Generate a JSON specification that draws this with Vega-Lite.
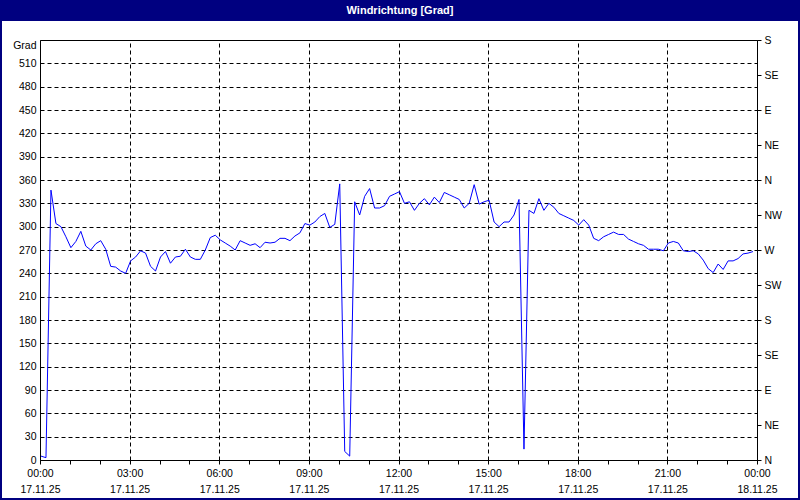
{
  "$schema": "https://vega.github.io/schema/vega-lite/v6.json",
  "width": 796,
  "height": 477,
  "autosize": {"type": "none"},
  "padding": {"top": 21, "left": 2, "right": 2, "bottom": 2},
  "background": "#000080",
  "title": {"text": "Windrichtung [Grad]", "color": "#ffffff", "font": "Liberation Sans", "fontSize": 11, "fontWeight": "bold", "anchor": "middle", "frame": "group", "baseline": "alphabetic", "offset": -4},
  "config": {
    "view": {"fill": "#ffffff", "stroke": null},
    "axis": {"labelFont": "Liberation Sans", "labelFontSize": 10.5, "labelColor": "#000000", "domainColor": "#000000", "tickColor": "#000000", "gridColor": "#000000", "gridOpacity": 1, "gridDash": [4, 3]}
  },
  "data": {"values": [
    {"t": "2025-11-17T00:02", "v": 5}, {"t": "2025-11-17T00:12", "v": 3}, {"t": "2025-11-17T00:22", "v": 347}, {"t": "2025-11-17T00:32", "v": 304}, {"t": "2025-11-17T00:42", "v": 300}, {"t": "2025-11-17T00:52", "v": 287},
    {"t": "2025-11-17T01:02", "v": 273}, {"t": "2025-11-17T01:12", "v": 281}, {"t": "2025-11-17T01:22", "v": 294}, {"t": "2025-11-17T01:32", "v": 275}, {"t": "2025-11-17T01:42", "v": 270}, {"t": "2025-11-17T01:52", "v": 278},
    {"t": "2025-11-17T02:02", "v": 282}, {"t": "2025-11-17T02:12", "v": 271}, {"t": "2025-11-17T02:22", "v": 249}, {"t": "2025-11-17T02:32", "v": 248}, {"t": "2025-11-17T02:42", "v": 243}, {"t": "2025-11-17T02:52", "v": 240},
    {"t": "2025-11-17T03:02", "v": 256}, {"t": "2025-11-17T03:12", "v": 261}, {"t": "2025-11-17T03:22", "v": 269}, {"t": "2025-11-17T03:32", "v": 266}, {"t": "2025-11-17T03:42", "v": 249}, {"t": "2025-11-17T03:52", "v": 243},
    {"t": "2025-11-17T04:02", "v": 261}, {"t": "2025-11-17T04:12", "v": 268}, {"t": "2025-11-17T04:22", "v": 253}, {"t": "2025-11-17T04:32", "v": 261}, {"t": "2025-11-17T04:42", "v": 262}, {"t": "2025-11-17T04:52", "v": 271},
    {"t": "2025-11-17T05:02", "v": 261}, {"t": "2025-11-17T05:12", "v": 258}, {"t": "2025-11-17T05:22", "v": 258}, {"t": "2025-11-17T05:32", "v": 270}, {"t": "2025-11-17T05:42", "v": 286}, {"t": "2025-11-17T05:52", "v": 289},
    {"t": "2025-11-17T06:02", "v": 283}, {"t": "2025-11-17T06:12", "v": 279}, {"t": "2025-11-17T06:22", "v": 275}, {"t": "2025-11-17T06:32", "v": 270}, {"t": "2025-11-17T06:42", "v": 282}, {"t": "2025-11-17T06:52", "v": 279},
    {"t": "2025-11-17T07:02", "v": 276}, {"t": "2025-11-17T07:12", "v": 278}, {"t": "2025-11-17T07:22", "v": 273}, {"t": "2025-11-17T07:32", "v": 280}, {"t": "2025-11-17T07:42", "v": 279}, {"t": "2025-11-17T07:52", "v": 280},
    {"t": "2025-11-17T08:02", "v": 285}, {"t": "2025-11-17T08:12", "v": 285}, {"t": "2025-11-17T08:22", "v": 282}, {"t": "2025-11-17T08:32", "v": 288}, {"t": "2025-11-17T08:42", "v": 292}, {"t": "2025-11-17T08:52", "v": 304},
    {"t": "2025-11-17T09:02", "v": 302}, {"t": "2025-11-17T09:12", "v": 306}, {"t": "2025-11-17T09:22", "v": 313}, {"t": "2025-11-17T09:32", "v": 317}, {"t": "2025-11-17T09:42", "v": 299}, {"t": "2025-11-17T09:52", "v": 303},
    {"t": "2025-11-17T10:02", "v": 355}, {"t": "2025-11-17T10:12", "v": 11}, {"t": "2025-11-17T10:22", "v": 5}, {"t": "2025-11-17T10:32", "v": 332}, {"t": "2025-11-17T10:42", "v": 315}, {"t": "2025-11-17T10:52", "v": 339},
    {"t": "2025-11-17T11:02", "v": 349}, {"t": "2025-11-17T11:12", "v": 324}, {"t": "2025-11-17T11:22", "v": 324}, {"t": "2025-11-17T11:32", "v": 327}, {"t": "2025-11-17T11:42", "v": 339}, {"t": "2025-11-17T11:52", "v": 342},
    {"t": "2025-11-17T12:02", "v": 345}, {"t": "2025-11-17T12:12", "v": 330}, {"t": "2025-11-17T12:22", "v": 332}, {"t": "2025-11-17T12:32", "v": 321}, {"t": "2025-11-17T12:42", "v": 330}, {"t": "2025-11-17T12:52", "v": 336},
    {"t": "2025-11-17T13:02", "v": 328}, {"t": "2025-11-17T13:12", "v": 338}, {"t": "2025-11-17T13:22", "v": 331}, {"t": "2025-11-17T13:32", "v": 344}, {"t": "2025-11-17T13:42", "v": 341}, {"t": "2025-11-17T13:52", "v": 338},
    {"t": "2025-11-17T14:02", "v": 335}, {"t": "2025-11-17T14:12", "v": 324}, {"t": "2025-11-17T14:22", "v": 330}, {"t": "2025-11-17T14:32", "v": 354}, {"t": "2025-11-17T14:42", "v": 329}, {"t": "2025-11-17T14:52", "v": 332},
    {"t": "2025-11-17T15:02", "v": 334}, {"t": "2025-11-17T15:12", "v": 306}, {"t": "2025-11-17T15:22", "v": 300}, {"t": "2025-11-17T15:32", "v": 306}, {"t": "2025-11-17T15:42", "v": 306}, {"t": "2025-11-17T15:52", "v": 315},
    {"t": "2025-11-17T16:02", "v": 335}, {"t": "2025-11-17T16:12", "v": 14}, {"t": "2025-11-17T16:22", "v": 321}, {"t": "2025-11-17T16:32", "v": 317}, {"t": "2025-11-17T16:42", "v": 336}, {"t": "2025-11-17T16:52", "v": 321},
    {"t": "2025-11-17T17:02", "v": 330}, {"t": "2025-11-17T17:12", "v": 325}, {"t": "2025-11-17T17:22", "v": 317}, {"t": "2025-11-17T17:32", "v": 314}, {"t": "2025-11-17T17:42", "v": 311}, {"t": "2025-11-17T17:52", "v": 308},
    {"t": "2025-11-17T18:02", "v": 302}, {"t": "2025-11-17T18:12", "v": 309}, {"t": "2025-11-17T18:22", "v": 302}, {"t": "2025-11-17T18:32", "v": 285}, {"t": "2025-11-17T18:42", "v": 282}, {"t": "2025-11-17T18:52", "v": 287},
    {"t": "2025-11-17T19:02", "v": 290}, {"t": "2025-11-17T19:12", "v": 293}, {"t": "2025-11-17T19:22", "v": 290}, {"t": "2025-11-17T19:32", "v": 290}, {"t": "2025-11-17T19:42", "v": 284}, {"t": "2025-11-17T19:52", "v": 281},
    {"t": "2025-11-17T20:02", "v": 278}, {"t": "2025-11-17T20:12", "v": 276}, {"t": "2025-11-17T20:22", "v": 271}, {"t": "2025-11-17T20:32", "v": 271}, {"t": "2025-11-17T20:42", "v": 271}, {"t": "2025-11-17T20:52", "v": 269},
    {"t": "2025-11-17T21:02", "v": 279}, {"t": "2025-11-17T21:12", "v": 281}, {"t": "2025-11-17T21:22", "v": 279}, {"t": "2025-11-17T21:32", "v": 269}, {"t": "2025-11-17T21:42", "v": 268}, {"t": "2025-11-17T21:52", "v": 269},
    {"t": "2025-11-17T22:02", "v": 265}, {"t": "2025-11-17T22:12", "v": 257}, {"t": "2025-11-17T22:22", "v": 246}, {"t": "2025-11-17T22:32", "v": 241}, {"t": "2025-11-17T22:42", "v": 252}, {"t": "2025-11-17T22:52", "v": 245},
    {"t": "2025-11-17T23:02", "v": 256}, {"t": "2025-11-17T23:12", "v": 256}, {"t": "2025-11-17T23:22", "v": 259}, {"t": "2025-11-17T23:32", "v": 265}, {"t": "2025-11-17T23:42", "v": 266}, {"t": "2025-11-17T23:52", "v": 268}
  ]},
  "layer": [
    {
      "mark": {"type": "line", "color": "#0000ff", "strokeWidth": 1},
      "encoding": {
        "x": {"field": "t", "type": "temporal",
          "scale": {"domain": [{"year": 2025, "month": 11, "date": 17, "hours": 0}, {"year": 2025, "month": 11, "date": 18, "hours": 0}], "range": [38, 755], "nice": false},
          "axis": {"orient": "bottom", "offset": -38, "title": null,
            "values": [
              {"year": 2025, "month": 11, "date": 17, "hours": 0}, {"year": 2025, "month": 11, "date": 17, "hours": 1}, {"year": 2025, "month": 11, "date": 17, "hours": 2},
              {"year": 2025, "month": 11, "date": 17, "hours": 3}, {"year": 2025, "month": 11, "date": 17, "hours": 4}, {"year": 2025, "month": 11, "date": 17, "hours": 5},
              {"year": 2025, "month": 11, "date": 17, "hours": 6}, {"year": 2025, "month": 11, "date": 17, "hours": 7}, {"year": 2025, "month": 11, "date": 17, "hours": 8},
              {"year": 2025, "month": 11, "date": 17, "hours": 9}, {"year": 2025, "month": 11, "date": 17, "hours": 10}, {"year": 2025, "month": 11, "date": 17, "hours": 11},
              {"year": 2025, "month": 11, "date": 17, "hours": 12}, {"year": 2025, "month": 11, "date": 17, "hours": 13}, {"year": 2025, "month": 11, "date": 17, "hours": 14},
              {"year": 2025, "month": 11, "date": 17, "hours": 15}, {"year": 2025, "month": 11, "date": 17, "hours": 16}, {"year": 2025, "month": 11, "date": 17, "hours": 17},
              {"year": 2025, "month": 11, "date": 17, "hours": 18}, {"year": 2025, "month": 11, "date": 17, "hours": 19}, {"year": 2025, "month": 11, "date": 17, "hours": 20},
              {"year": 2025, "month": 11, "date": 17, "hours": 21}, {"year": 2025, "month": 11, "date": 17, "hours": 22}, {"year": 2025, "month": 11, "date": 17, "hours": 23},
              {"year": 2025, "month": 11, "date": 18, "hours": 0}],
            "grid": false, "ticks": true, "tickSize": 4, "domain": true,
            "labelExpr": "hours(datum.value) % 3 === 0 ? [timeFormat(datum.value, '%H:%M'), timeFormat(datum.value, '%d.%m.%y')] : ''",
            "labelOverlap": false, "labelFlush": false, "labelAngle": 0, "labelPadding": 4, "labelLineHeight": 16}},
        "y": {"field": "v", "type": "quantitative",
          "scale": {"domain": [0, 540], "range": [439, 19], "nice": false, "zero": false},
          "axis": {"orient": "left", "offset": -38, "title": null,
            "values": [0, 30, 60, 90, 120, 150, 180, 210, 240, 270, 300, 330, 360, 390, 420, 450, 480, 510, 540],
            "grid": true, "ticks": false, "tickSize": 0, "domain": true, "labelPadding": 4,
            "labelBaseline": {"condition": {"test": "datum.value === 540", "value": "top"}, "value": "middle"},
            "labelExpr": "datum.value === 540 ? 'Grad' : datum.label"}}
      }
    },
    {
      "mark": {"type": "line", "opacity": 0},
      "encoding": {
        "x": {"field": "t", "type": "temporal",
          "scale": {"domain": [{"year": 2025, "month": 11, "date": 17, "hours": 0}, {"year": 2025, "month": 11, "date": 18, "hours": 0}], "range": [38, 755], "nice": false},
          "axis": {"orient": "top", "offset": -19, "title": null, "labels": false, "ticks": false, "grid": true, "domain": true,
            "values": [{"year": 2025, "month": 11, "date": 17, "hours": 0}, {"year": 2025, "month": 11, "date": 17, "hours": 3}, {"year": 2025, "month": 11, "date": 17, "hours": 6}, {"year": 2025, "month": 11, "date": 17, "hours": 9}, {"year": 2025, "month": 11, "date": 17, "hours": 12}, {"year": 2025, "month": 11, "date": 17, "hours": 15}, {"year": 2025, "month": 11, "date": 17, "hours": 18}, {"year": 2025, "month": 11, "date": 17, "hours": 21}, {"year": 2025, "month": 11, "date": 18, "hours": 0}]}},
        "y": {"field": "v", "type": "quantitative",
          "scale": {"domain": [0, 540], "range": [439, 19], "nice": false, "zero": false},
          "axis": {"orient": "right", "offset": -41, "title": null,
            "values": [0, 45, 90, 135, 180, 225, 270, 315, 360, 405, 450, 495, 540],
            "grid": false, "ticks": true, "tickSize": 4, "domain": true, "labelPadding": 3,
            "labelExpr": "['N','NE','E','SE','S','SW','W','NW'][round(datum.value / 45) % 8]"}}
      }
    }
  ]
}
